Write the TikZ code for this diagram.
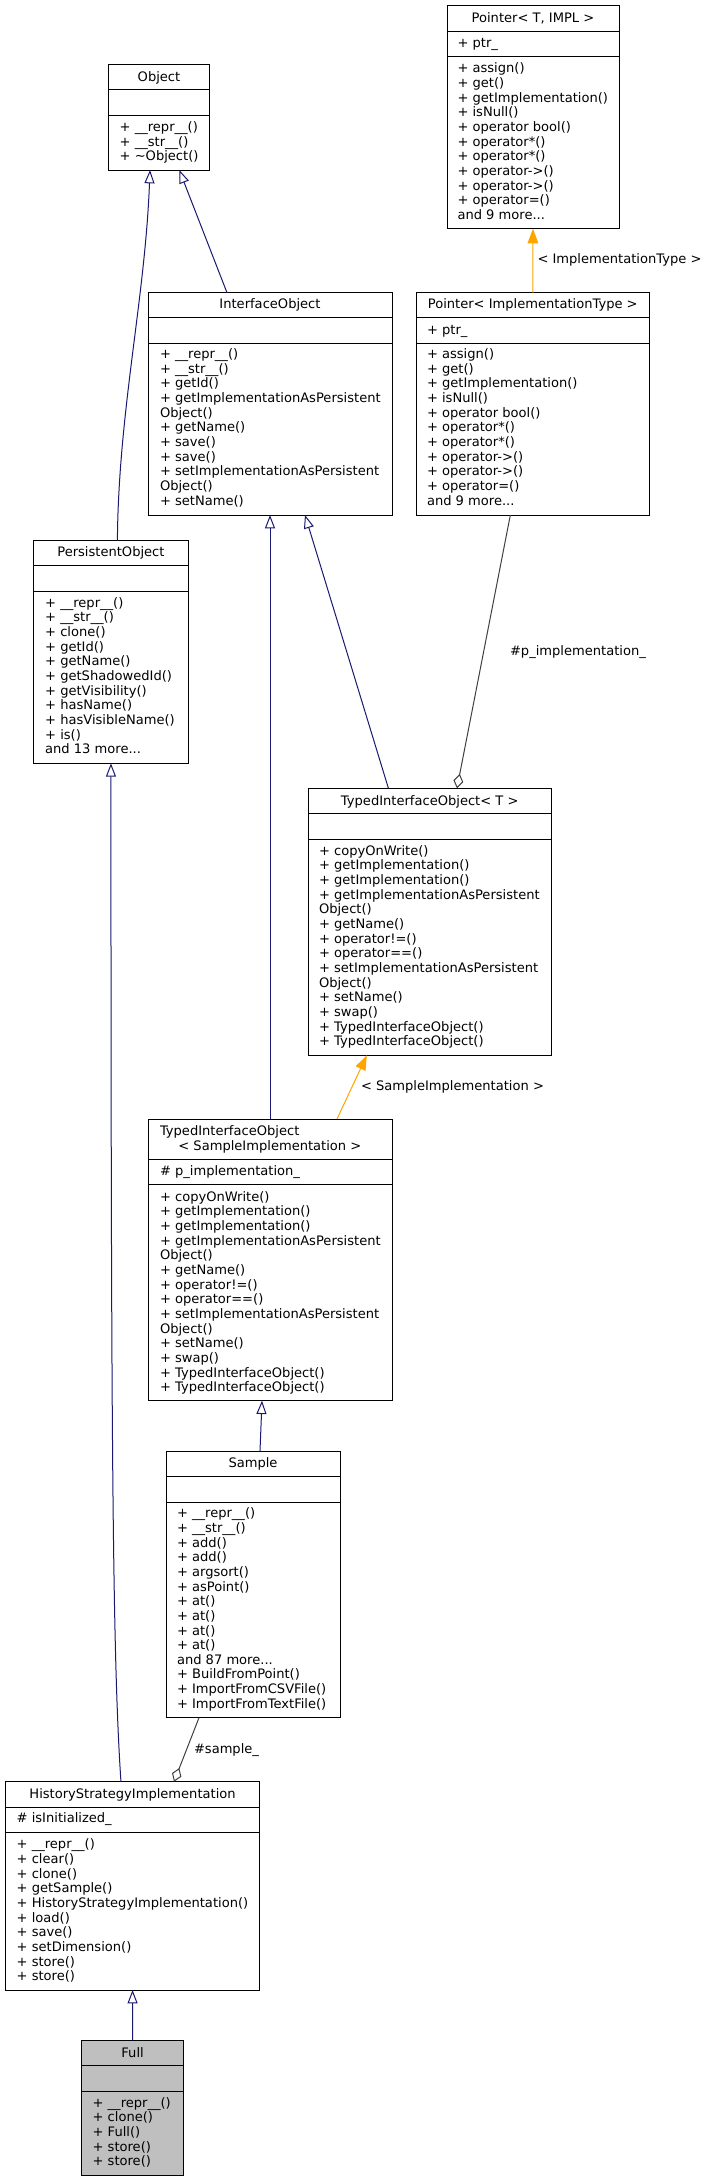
\documentclass[tikz,border=0pt]{standalone}
\usepackage{fontspec}
\setmainfont{DejaVu Sans}
\usetikzlibrary{arrows.meta,calc}
\definecolor{inhc}{HTML}{191970}
\definecolor{tplc}{HTML}{FFA500}
\definecolor{aggc}{HTML}{404040}
\definecolor{fullc}{HTML}{BFBFBF}
\newcommand{\mydots}{...}
\newcommand{\umlbox}[8]{%
  \node[ubox, fill=#8, minimum width={(#4-#2)*0.75pt}, minimum height={(#5-#3)*0.75pt}, anchor=north west] (#1) at (#2,#3) {};
  \draw[sep] (#2,#6) -- (#4,#6);
  \draw[sep] (#2,#7) -- (#4,#7);
}
\newcommand{\ulines}[4]{%
  \foreach \t [count=\i] in {#4} {\node[txt] (#1-\i) at (#2,{#3+4.5+(\i-1)*14.65}) {\t};}
}
\begin{document}
\begin{tikzpicture}[x=0.75pt,y=-0.75pt,
  font=\fontsize{9.8}{11}\selectfont,
  ubox/.style={draw=black, line width=0.75pt, inner sep=0, outer sep=0},
  sep/.style={draw=black, line width=0.75pt},
  txt/.style={anchor=base west, inner sep=0, outer sep=0},
  ttl/.style={anchor=base, inner sep=0, outer sep=0},
  lbl/.style={anchor=base west, inner sep=0, outer sep=0},
  inh/.style={draw=inhc, line width=0.75pt, -{Triangle[open,length=10pt,width=7.5pt,fill=white]}},
  tpl/.style={draw=tplc, line width=0.75pt, -{Triangle[length=11pt,width=8pt,fill=tplc]}},
  agg/.style={draw=aggc, line width=0.75pt, -{Diamond[open,length=11pt,width=7.5pt,fill=white]}}]
\useasboundingbox[fill=white] (0,0) rectangle (705,2181);

% Object
\umlbox{obj}{108.4}{64.3}{209.6}{170}{89}{115}{white}
\node[ttl] (obj-t) at (159,81.5) {Object};
\ulines{objm}{119.7}{127}{+ \_\_repr\_\_(),+ \_\_str\_\_(),+ \textasciitilde Object()}

% Pointer<T, IMPL>
\umlbox{ptrT}{447}{5.7}{619}{228.7}{31}{56.7}{white}
\node[ttl] (ptrT-t) at (533,22.5) {Pointer< T, IMPL >};
\node[txt] (ptrT-a) at (457.5,47.2) {+ ptr\_};
\ulines{ptrTm}{457.5}{68.3}{+ assign(),+ get(),+ getImplementation(),+ isNull(),+ operator bool(),+ operator*(),+ operator*(),+ operator->(),+ operator->(),+ operator=(),and 9 more\mydots}

% Pointer<ImplementationType>
\umlbox{ptrI}{416}{292.7}{649.5}{515}{317.7}{343}{white}
\node[ttl] (ptrI-t) at (532.75,308.8) {Pointer< ImplementationType >};
\node[txt] (ptrI-a) at (427,334.5) {+ ptr\_};
\ulines{ptrIm}{427}{354}{+ assign(),+ get(),+ getImplementation(),+ isNull(),+ operator bool(),+ operator*(),+ operator*(),+ operator->(),+ operator->(),+ operator=(),and 9 more\mydots}

% InterfaceObject
\umlbox{io}{148}{292.7}{392}{515}{317.7}{343}{white}
\node[ttl] (io-t) at (270,308.8) {InterfaceObject};
\ulines{iom}{160}{354}{+ \_\_repr\_\_(),+ \_\_str\_\_(),+ getId(),+ getImplementationAsPersistent,Object(),+ getName(),+ save(),+ save(),+ setImplementationAsPersistent,Object(),+ setName()}

% PersistentObject
\umlbox{po}{33.9}{540.7}{188}{763.3}{565.7}{591}{white}
\node[ttl] (po-t) at (110.95,556.8) {PersistentObject};
\ulines{pom}{45.2}{602.7}{+ \_\_repr\_\_(),+ \_\_str\_\_(),+ clone(),+ getId(),+ getName(),+ getShadowedId(),+ getVisibility(),+ hasName(),+ hasVisibleName(),+ is(),and 13 more\mydots}

% TypedInterfaceObject<T>
\umlbox{tioT}{308}{788.3}{551.5}{1055.3}{813.7}{839}{white}
\node[ttl] (tioT-t) at (429.75,805.2) {TypedInterfaceObject< T >};
\ulines{tioTm}{319}{850.7}{+ copyOnWrite(),+ getImplementation(),+ getImplementation(),+ getImplementationAsPersistent,Object(),+ getName(),+ operator!=(),+ operator==(),+ setImplementationAsPersistent,Object(),+ setName(),+ swap(),+ TypedInterfaceObject(),+ TypedInterfaceObject()}

% TypedInterfaceObject<SampleImplementation>
\umlbox{tioS}{148}{1119}{392}{1400.7}{1159}{1184.3}{white}
\node[txt] (tioS-t1) at (160,1135.2) {TypedInterfaceObject};
\node[txt] (tioS-t2) at (178.4,1150.2) {< SampleImplementation >};
\node[txt] (tioS-a) at (160,1175.2) {\# p\_implementation\_};
\ulines{tioSm}{160}{1196.7}{+ copyOnWrite(),+ getImplementation(),+ getImplementation(),+ getImplementationAsPersistent,Object(),+ getName(),+ operator!=(),+ operator==(),+ setImplementationAsPersistent,Object(),+ setName(),+ swap(),+ TypedInterfaceObject(),+ TypedInterfaceObject()}

% Sample
\umlbox{smp}{166}{1451}{340}{1717.7}{1476.7}{1502}{white}
\node[ttl] (smp-t) at (253,1467.2) {Sample};
\ulines{smpm}{177}{1513.3}{+ \_\_repr\_\_(),+ \_\_str\_\_(),+ add(),+ add(),+ argsort(),+ asPoint(),+ at(),+ at(),+ at(),+ at(),and 87 more\mydots,+ BuildFromPoint(),+ ImportFromCSVFile(),+ ImportFromTextFile()}

% HistoryStrategyImplementation
\umlbox{hsi}{5.4}{1781.7}{259.7}{1990}{1807}{1832.3}{white}
\node[ttl] (hsi-t) at (132.55,1798.2) {HistoryStrategyImplementation};
\node[txt] (hsi-a) at (16.7,1822.8) {\# isInitialized\_};
\ulines{hsim}{16.7}{1844.3}{+ \_\_repr\_\_(),+ clear(),+ clone(),+ getSample(),+ HistoryStrategyImplementation(),+ load(),+ save(),+ setDimension(),+ store(),+ store()}

% Full
\umlbox{full}{81.8}{2040.3}{183.4}{2175}{2065.7}{2091}{fullc}
\node[ttl] (full-t) at (132.6,2057.2) {Full};
\ulines{fullm}{92.6}{2102.7}{+ \_\_repr\_\_(),+ clone(),+ Full(),+ store(),+ store()}

% connectors
\draw[inh] ([xshift=4.84pt]po.north) .. controls +(1,-130) and +(-5,130) .. ([xshift=-6.75pt]obj.south);
\draw[inh] ([xshift=-32.25pt]io.north) -- ([xshift=15.2pt]obj.south);
\draw[tpl] (ptrI.north) -- (ptrT.south);
\node[lbl] (l1) at (537.5,263.8) {< ImplementationType >};
\draw[inh] ([xshift=-31pt]tioT.north) -- ([xshift=26.25pt]io.south);
\draw[agg] ([xshift=-16.8pt]ptrI.south) -- ([xshift=20.4pt]tioT.north);
\node[lbl] (l2) at (510,655.2) {\#p\_implementation\_};
\draw[inh] (tioS.north) -- (io.south);
\draw[tpl] ([xshift=50.25pt]tioS.north) -- ([xshift=-47.2pt]tioT.south);
\node[lbl] (l3) at (361,1090.5) {< SampleImplementation >};
\draw[inh] ([xshift=5.25pt]smp.north) -- ([xshift=-6pt]tioS.south);
\draw[inh] ([xshift=-8.7pt]hsi.north) .. controls +(-8,-120) and +(0,700) .. (po.south);
\draw[agg] ([xshift=-40.5pt]smp.south) -- ([xshift=31.1pt]hsi.north);
\node[lbl] (l4) at (194,1753.5) {\#sample\_};
\draw[inh] (full.north) -- (hsi.south);
\end{tikzpicture}
\end{document}
